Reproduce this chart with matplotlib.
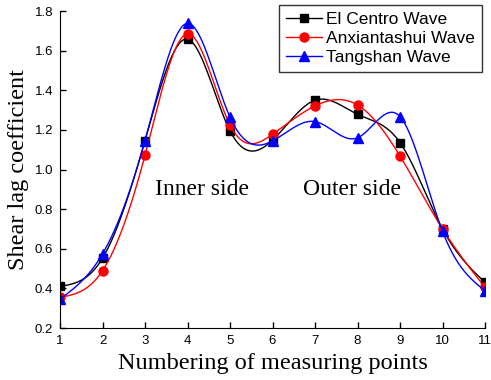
import matplotlib
matplotlib.use('Agg')
import matplotlib.pyplot as plt
import numpy as np

points = [1, 2, 3, 4, 5, 6, 7, 8, 9, 10, 11]
el_centro = [0.41, 0.552, 1.146, 1.658, 1.195, 1.148, 1.35, 1.279, 1.136, 0.70, 0.43]
anxiantashui = [0.355, 0.489, 1.072, 1.685, 1.225, 1.178, 1.321, 1.326, 1.068, 0.70, 0.405]
tangshan = [0.346, 0.574, 1.146, 1.738, 1.264, 1.144, 1.242, 1.16, 1.267, 0.688, 0.388]


def natural_spline(x, y, n=400):
    # plain natural cubic spline through the points
    x = np.asarray(x, float)
    y = np.asarray(y, float)
    m = len(x)
    h = np.diff(x)
    A = np.zeros((m, m))
    b = np.zeros(m)
    A[0, 0] = 1
    A[-1, -1] = 1
    for i in range(1, m - 1):
        A[i, i - 1] = h[i - 1]
        A[i, i] = 2 * (h[i - 1] + h[i])
        A[i, i + 1] = h[i]
        b[i] = 3 * ((y[i + 1] - y[i]) / h[i] - (y[i] - y[i - 1]) / h[i - 1])
    c = np.linalg.solve(A, b)
    xs = np.linspace(x[0], x[-1], n)
    ys = np.zeros(n)
    for k, xv in enumerate(xs):
        i = min(np.searchsorted(x, xv, side='right') - 1, m - 2)
        dx = xv - x[i]
        bi = (y[i + 1] - y[i]) / h[i] - h[i] * (2 * c[i] + c[i + 1]) / 3
        di = (c[i + 1] - c[i]) / (3 * h[i])
        ys[k] = y[i] + bi * dx + c[i] * dx ** 2 + di * dx ** 3
    return xs, ys


fig = plt.figure(figsize=(4.91, 3.8), dpi=100)
ax = fig.add_axes([0.1222, 0.1368, 0.8656, 0.8342])

series = [(el_centro, 'black', 's', 5.5, 'El Centro Wave'),
          (anxiantashui, 'red', 'o', 6.5, 'Anxiantashui Wave'),
          (tangshan, 'blue', '^', 7, 'Tangshan Wave')]
for vals, col, mk, ms, lab in series:
    xs, ys = natural_spline(points, vals)
    ax.plot(xs, ys, color=col, lw=1.0)
    ax.plot(points, vals, linestyle='none', marker=mk, color=col, ms=ms)
    ax.plot([], [], color=col, marker=mk, ms=ms, lw=1.0, label=lab)

ax.set_xlim(1, 11)
ax.set_ylim(0.2, 1.8)
ax.set_xticks(points)
ax.set_yticks(np.arange(0.2, 1.81, 0.2))
ax.yaxis.set_major_formatter(matplotlib.ticker.FormatStrFormatter('%.1f'))
ax.spines['top'].set_visible(False)
ax.spines['right'].set_visible(False)
ax.tick_params(direction='in', length=4.5, width=1, labelsize=9.5, pad=5)
for lbl in ax.get_xticklabels() + ax.get_yticklabels():
    lbl.set_fontfamily('Liberation Sans')

ax.set_xlabel('Numbering of measuring points', fontfamily='Liberation Serif', fontsize=17.5, labelpad=4)
ax.set_ylabel('Shear lag coefficient', fontfamily='Liberation Serif', fontsize=17.5, labelpad=4)

ax.text(4.34, 0.9, 'Inner side', fontfamily='Liberation Serif', fontsize=17, ha='center', va='center')
ax.text(7.87, 0.9, 'Outer side', fontfamily='Liberation Serif', fontsize=17, ha='center', va='center')

leg = ax.legend(loc='upper right', bbox_to_anchor=(1.0, 1.03), prop={'family': 'Liberation Sans', 'size': 12.5},
                frameon=True, fancybox=False, edgecolor='black', handlelength=2.1,
                borderpad=0.4, labelspacing=0.22, handletextpad=0.2, borderaxespad=0.2)
leg.get_frame().set_linewidth(1.0)

fig.savefig('out.png', dpi=100)
